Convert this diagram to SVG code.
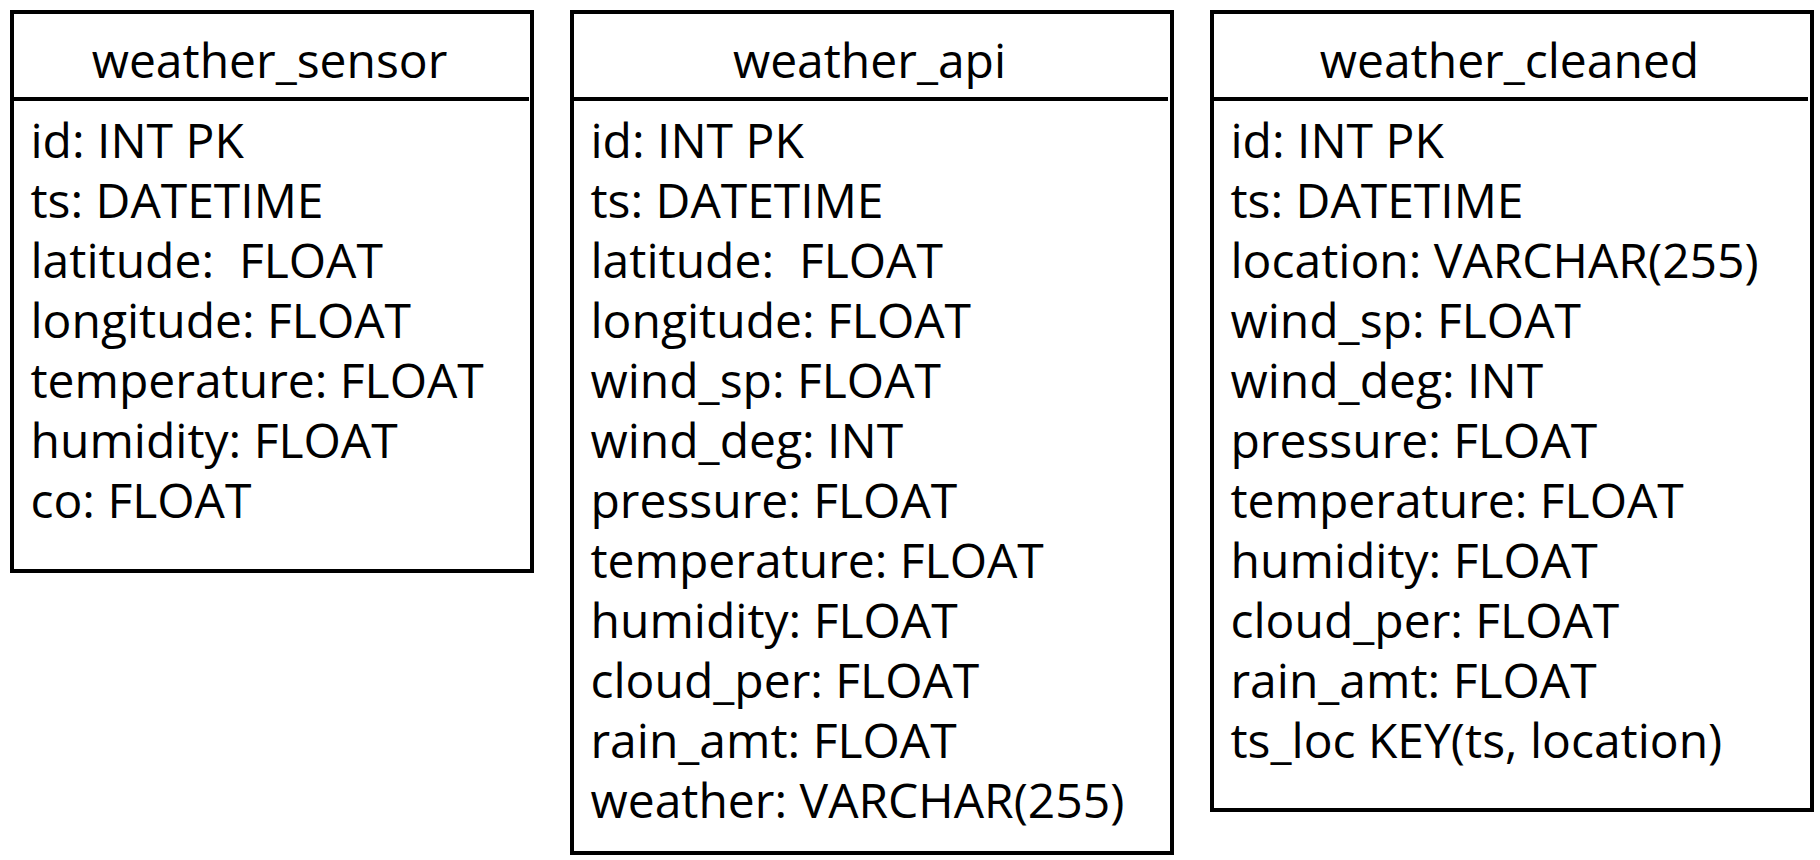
<svg xmlns="http://www.w3.org/2000/svg" width="1820" height="860" viewBox="0 0 1820 860">
<style>
.box{fill:#fff;stroke:#000;stroke-width:4}
.div{stroke:#000;stroke-width:4}
.t{font-family:"Open Sans","Noto Sans","DejaVu Sans",sans-serif;font-size:48px;fill:#000;white-space:pre}
.h{text-anchor:middle}
</style>
<rect width="1820" height="860" fill="#fff"/>
<g id="weather_sensor">
<rect class="box" x="12" y="12" width="520" height="559"/>
<line class="div" x1="12" y1="99" x2="529" y2="99"/>
<text class="t h" x="269.5" y="78">weather_sensor</text>
<text class="t" x="30.5" y="158">id: INT PK</text>
<text class="t" x="30.5" y="218">ts: DATETIME</text>
<text class="t" x="30.5" y="278" xml:space="preserve">latitude:  FLOAT</text>
<text class="t" x="30.5" y="338">longitude: FLOAT</text>
<text class="t" x="30.5" y="398">temperature: FLOAT</text>
<text class="t" x="30.5" y="458">humidity: FLOAT</text>
<text class="t" x="30.5" y="518">co: FLOAT</text>
</g>
<g id="weather_api">
<rect class="box" x="572" y="12" width="600" height="841"/>
<line class="div" x1="572" y1="99" x2="1168" y2="99"/>
<text class="t h" x="869.5" y="78">weather_api</text>
<text class="t" x="590.5" y="158">id: INT PK</text>
<text class="t" x="590.5" y="218">ts: DATETIME</text>
<text class="t" x="590.5" y="278" xml:space="preserve">latitude:  FLOAT</text>
<text class="t" x="590.5" y="338">longitude: FLOAT</text>
<text class="t" x="590.5" y="398">wind_sp: FLOAT</text>
<text class="t" x="590.5" y="458">wind_deg: INT</text>
<text class="t" x="590.5" y="518">pressure: FLOAT</text>
<text class="t" x="590.5" y="578">temperature: FLOAT</text>
<text class="t" x="590.5" y="638">humidity: FLOAT</text>
<text class="t" x="590.5" y="698">cloud_per: FLOAT</text>
<text class="t" x="590.5" y="758">rain_amt: FLOAT</text>
<text class="t" x="590.5" y="818">weather: VARCHAR(255)</text>
</g>
<g id="weather_cleaned">
<rect class="box" x="1212" y="12" width="600" height="798"/>
<line class="div" x1="1212" y1="99" x2="1808" y2="99"/>
<text class="t h" x="1509.5" y="78">weather_cleaned</text>
<text class="t" x="1230.5" y="158">id: INT PK</text>
<text class="t" x="1230.5" y="218">ts: DATETIME</text>
<text class="t" x="1230.5" y="278">location: VARCHAR(255)</text>
<text class="t" x="1230.5" y="338">wind_sp: FLOAT</text>
<text class="t" x="1230.5" y="398">wind_deg: INT</text>
<text class="t" x="1230.5" y="458">pressure: FLOAT</text>
<text class="t" x="1230.5" y="518">temperature: FLOAT</text>
<text class="t" x="1230.5" y="578">humidity: FLOAT</text>
<text class="t" x="1230.5" y="638">cloud_per: FLOAT</text>
<text class="t" x="1230.5" y="698">rain_amt: FLOAT</text>
<text class="t" x="1230.5" y="758">ts_loc KEY(ts, location)</text>
</g>
<g id="connectors"></g>
</svg>
